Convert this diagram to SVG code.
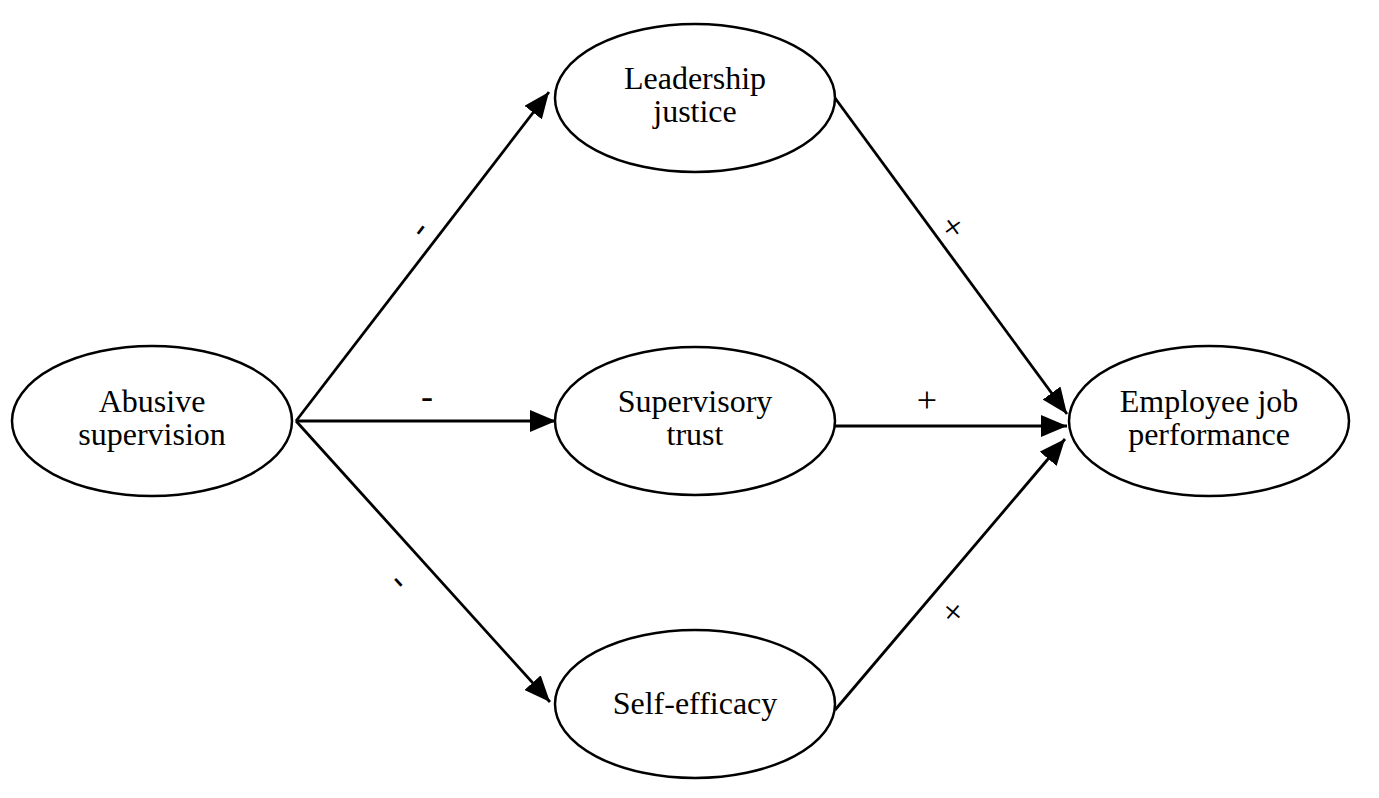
<svg xmlns="http://www.w3.org/2000/svg" width="1379" height="798" viewBox="0 0 1379 798">
<style>
.node ellipse{fill:#fff;stroke:#000;stroke-width:2.5}
.node text,.lbl{font-family:"Liberation Serif","Times New Roman",serif;font-size:32px;fill:#000;text-anchor:middle}
.lbl{font-size:36px}
.edges line{stroke:#000;stroke-width:2.8;marker-end:url(#ah)}
</style>
<defs>
<marker id="ah" markerUnits="userSpaceOnUse" markerWidth="28" markerHeight="22" refX="26" refY="11" orient="auto">
<path d="M0,0 L26,11 L0,22 z" fill="#000"/>
</marker>
</defs>
<rect width="1379" height="798" fill="#fff"/>
<g class="edges">
<line x1="296" y1="421" x2="549" y2="92"/>
<line x1="296" y1="421" x2="556" y2="421"/>
<line x1="296" y1="421" x2="550" y2="702"/>
<line x1="835" y1="98" x2="1067" y2="414"/>
<line x1="835" y1="426" x2="1067" y2="426"/>
<line x1="835" y1="710" x2="1065" y2="439"/>
<text class="lbl" transform="translate(418,228) rotate(-52.5)" y="12">-</text>
<text class="lbl" x="427" y="408">-</text>
<text class="lbl" transform="translate(401,580) rotate(47.9)" y="12">-</text>
<text class="lbl" transform="translate(953,227) rotate(53.7)" y="12">+</text>
<text class="lbl" x="927" y="412">+</text>
<text class="lbl" transform="translate(953,612) rotate(-49.7)" y="12">+</text>
</g>
<g id="abusive" class="node"><ellipse cx="152" cy="421" rx="140" ry="75"/><text x="152" y="412">Abusive</text><text x="152" y="445">supervision</text></g>
<g id="justice" class="node"><ellipse cx="695" cy="98" rx="140" ry="74"/><text x="695" y="89">Leadership</text><text x="695" y="122">justice</text></g>
<g id="trust" class="node"><ellipse cx="695" cy="421" rx="140" ry="74"/><text x="695" y="412">Supervisory</text><text x="695" y="445">trust</text></g>
<g id="efficacy" class="node"><ellipse cx="695" cy="704" rx="140" ry="74"/><text x="695" y="714">Self-efficacy</text></g>
<g id="performance" class="node"><ellipse cx="1209" cy="421" rx="140" ry="75"/><text x="1209" y="412">Employee job</text><text x="1209" y="445">performance</text></g>
</svg>
